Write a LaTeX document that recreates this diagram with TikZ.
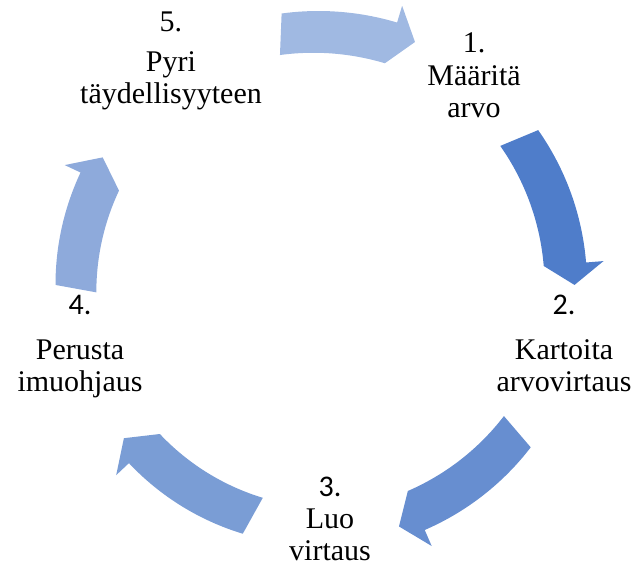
\documentclass[tikz,border=0pt]{standalone}
\usepackage{fontspec}
\setmainfont{Liberation Serif}
\newfontfamily\numfont{Carlito}

% Curved block arrow around the cycle centre:
% #1 fill colour, #2 tail angle, #3 angle of the head base, #4 tip angle, #5 mid radius
\newcommand\bentarrow[5]{%
  \fill[#1] (#2:#5+12.5) arc[start angle=#2, end angle=#3, radius=#5+12.5]
    -- (#3:#5+30) -- (#4:#5) -- (#3:#5-30)
    arc[start angle=#3, end angle=#2, radius=#5-12.5] -- cycle;}

\definecolor{arrowA}{RGB}{79,125,202}
\definecolor{arrowB}{RGB}{103,142,208}
\definecolor{arrowC}{RGB}{122,157,213}
\definecolor{arrowD}{RGB}{142,170,219}
\definecolor{arrowE}{RGB}{160,185,226}

\begin{document}
\begin{tikzpicture}[x=1pt,y=-1pt,
  steptext/.style={align=center, inner sep=0pt, anchor=base,
    font={\fontsize{30}{32.5}\selectfont\lineskiplimit=-20pt}},
]
\useasboundingbox (0,0) rectangle (633,572);

% arrows of the cycle
\begin{scope}[shift={(318.5,284.5)}, yscale=-1]
  \bentarrow{arrowE}{97.75}{73.3}{68.3}{261}
  \bentarrow{arrowA}{35.1}{4.7}{-0.1}{256}
  \bentarrow{arrowB}{-37.5}{-66.6}{-71.6}{255}
  \bentarrow{arrowC}{-106.9}{-136.7}{-141.7}{248}
  \bentarrow{arrowD}{180.1}{154.8}{149.5}{250.5}
\end{scope}

% steps (anchored at the baseline of the last line)
\node[steptext] (s1) at (474,118) {1.\\Määritä\\arvo};
\node[steptext] (s2) at (564,392) {{\numfont 2.}\\[12.5pt]Kartoita\\arvovirtaus};
\node[steptext] (s3) at (330,561) {{\numfont 3.}\\Luo\\virtaus};
\node[steptext] (s4) at (80,392) {{\numfont 4.}\\[12.5pt]Perusta\\imuohjaus};
\node[steptext] (s5) at (171,104) {5.\\[7.5pt]Pyri\\täydellisyyteen};
\end{tikzpicture}
\end{document}
